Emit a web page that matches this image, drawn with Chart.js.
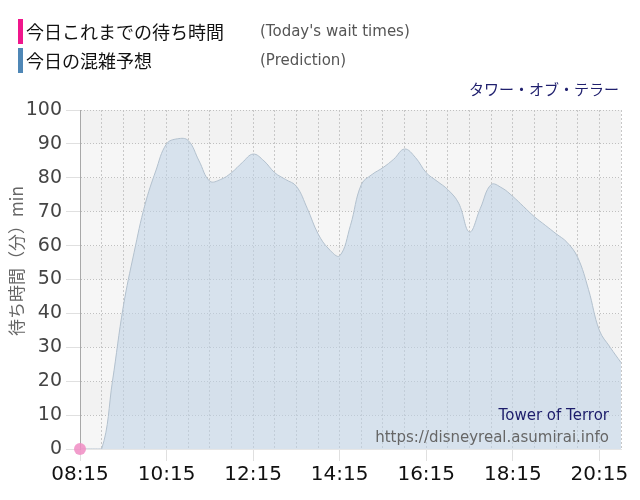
<!DOCTYPE html>
<html>
<head>
<meta charset="utf-8">
<script src="https://cdn.jsdelivr.net/npm/chart.js@4"></script>
<style>
  html, body { margin: 0; padding: 0; background: #fff; }
  #wrap { position: relative; width: 640px; height: 500px; font-family: "DejaVu Sans", "Noto Sans CJK JP", sans-serif; }
  #wrap canvas { position: absolute; left: 0; top: 0; }
  .leg { position: absolute; left: 18px; height: 25px; line-height: 25px; font-size: 18px; color: #111; font-family: "Noto Sans CJK JP", sans-serif; }
  .leg .bar { position: absolute; left: 0; top: 0; width: 5px; height: 25px; }
  .leg .jp { position: absolute; left: 8px; white-space: nowrap; }
  .leg .en { position: absolute; left: 242px; white-space: nowrap; font-size: 15px; color: #555; font-family: "DejaVu Sans", sans-serif; }
  #title { position: absolute; right: 21px; top: 78px; font-size: 15px; color: #20206e; font-family: "Noto Sans CJK JP", sans-serif; white-space: nowrap; }
</style>
</head>
<body>
<div id="wrap">
  <canvas id="chartWait" width="640" height="500"></canvas>
  <div class="leg" style="top:19px"><span class="bar" style="background:#f0168c"></span><span class="jp">今日これまでの待ち時間</span><span class="en">(Today's wait times)</span></div>
  <div class="leg" style="top:48px"><span class="bar" style="background:#4f87b6"></span><span class="jp">今日の混雑予想</span><span class="en">(Prediction)</span></div>
  <div id="title">タワー・オブ・テラー</div>
</div>
<script>
// ===== DATA =====
const timeLabels = [
  '08:15','08:30','08:45','09:00','09:15','09:30','09:45','10:00','10:15','10:30','10:45',
  '11:00','11:15','11:30','11:45','12:00','12:15','12:30','12:45','13:00','13:15','13:30','13:45',
  '14:00','14:15','14:30','14:45','15:00','15:15','15:30','15:45','16:00','16:15','16:30','16:45',
  '17:00','17:15','17:30','17:45','18:00','18:15','18:30','18:45','19:00','19:15','19:30','19:45',
  '20:00','20:15','20:30','20:45'
];
const predictionValues = [
  0, 0, 0, 20, 42, 58, 72, 82, 90, 91.5, 91,
  85, 79, 79.5, 81.5, 84.5, 87, 85, 81.5, 79.5, 77.5, 71, 63.5,
  59, 57, 66, 78, 81, 83, 85.5, 88.5, 86, 81.5, 79, 76.5,
  72.5, 64, 71, 78, 77, 74.5, 71.5, 68.5, 66, 63.5, 61, 56.5,
  47, 35, 30, 25.5
];
const todayValues = [0];
const yTicks = [0, 10, 20, 30, 40, 50, 60, 70, 80, 90, 100];

const yTitle = '待ち時間（分）min';
const attractionName = 'Tower of Terror';
const siteUrl = 'https://disneyreal.asumirai.info';

// plot background with light bands
const bgPlugin = {
  id: 'bgBands',
  beforeDraw(chart) {
    const { ctx, chartArea: a, scales: { y } } = chart;
    ctx.save();
    for (let i = 0; i < yTicks.length - 1; i++) {
      const top = y.getPixelForValue(yTicks[i + 1]);
      const bot = y.getPixelForValue(yTicks[i]);
      ctx.fillStyle = (i % 2 === 0) ? '#f6f6f6' : '#f2f2f2';
      ctx.fillRect(a.left, top, a.right - a.left, bot - top);
    }
    ctx.restore();
  }
};

// watermark text inside plot + rotated y title
const markPlugin = {
  id: 'watermark',
  afterDatasetsDraw(chart) {
    const { ctx, chartArea: a } = chart;
    ctx.save();
    ctx.textAlign = 'right';
    ctx.textBaseline = 'alphabetic';
    ctx.font = '15px "DejaVu Sans", sans-serif';
    ctx.fillStyle = '#1c1c6a';
    ctx.fillText(attractionName, a.right - 12, a.bottom - 29);
    ctx.fillStyle = '#666';
    ctx.fillText(siteUrl, a.right - 12, a.bottom - 7);
    ctx.restore();

    // y axis title
    ctx.save();
    ctx.translate(17, 261);
    ctx.rotate(-Math.PI / 2);
    ctx.textAlign = 'center';
    ctx.textBaseline = 'middle';
    ctx.font = '17px "Noto Sans CJK JP", sans-serif';
    ctx.fillStyle = '#666';
    ctx.fillText(yTitle, 0, 0);
    ctx.restore();
  }
};

const ctx = document.getElementById('chartWait').getContext('2d');
new Chart(ctx, {
  type: 'line',
  data: {
    labels: timeLabels,
    datasets: [
      {
        label: 'Prediction',
        data: predictionValues,
        fill: 'origin',
        backgroundColor: 'rgba(190,210,230,0.55)',
        borderColor: '#b3c1ce',
        borderWidth: 1,
        pointRadius: 0,
        tension: 0.4,
        order: 2
      },
      {
        label: "Today's wait times",
        data: todayValues,
        showLine: false,
        pointRadius: 6,
        pointBackgroundColor: 'rgba(240,140,195,0.85)',
        pointBorderWidth: 0,
        clip: false,
        order: 1
      }
    ]
  },
  options: {
    responsive: false,
    animation: false,
    layout: { padding: { top: 110, right: 19, left: 0, bottom: 0 } },
    plugins: {
      legend: { display: false },
      tooltip: { enabled: false }
    },
    scales: {
      x: {
        offset: false,
        afterFit(s) { s.height = 51; },
        ticks: {
          autoSkip: false,
          maxRotation: 0,
          padding: 2,
          color: '#111',
          font: { family: '"DejaVu Sans", sans-serif', size: 20 },
          callback: (v, i) => (i % 8 === 0 && i < timeLabels.length - 1) ? timeLabels[i] : ''
        },
        grid: {
          color: c => (c.index % 2 === 0 && c.index > 0) ? '#c8c8c8' : 'transparent',
          tickColor: c => (c.index % 8 === 0 && c.index < timeLabels.length - 1) ? '#e0e0e0' : 'transparent',
          tickLength: 12,
          tickBorderDash: [],
          lineWidth: 1
        },
        border: { display: true, color: '#e6e6e6', dash: [2, 2] }
      },
      y: {
        min: 0,
        max: 100,
        afterFit(s) { s.width = 80; },
        afterBuildTicks(s) { s.ticks = yTicks.map(v => ({ value: v })); },
        ticks: {
          padding: 4,
          color: '#444',
          font: { family: '"DejaVu Sans", sans-serif', size: 19 }
        },
        grid: {
          color: '#c0c0c0',
          tickColor: '#e0e0e0',
          tickLength: 14,
          tickBorderDash: []
        },
        border: { display: true, color: '#a8a8a8', dash: [1, 2] }
      }
    }
  },
  plugins: [bgPlugin, markPlugin]
});
</script>
</body>
</html>
